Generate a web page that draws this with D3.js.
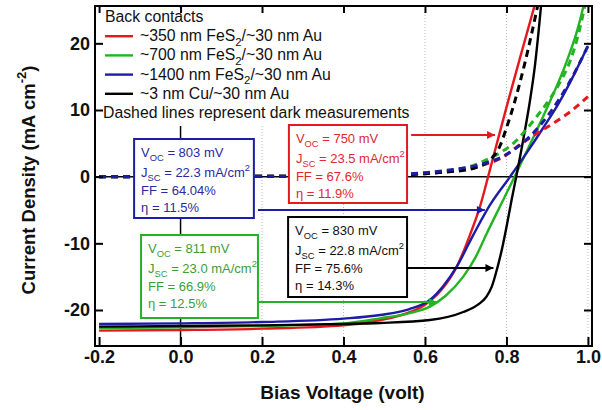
<!DOCTYPE html>
<html>
<head>
<meta charset="utf-8">
<script src="https://d3js.org/d3.v7.min.js"></script>
<style>
  body { margin: 0; background: #fff; }
  svg { display: block; font-family: "Liberation Sans", Arial, sans-serif; }
</style>
</head>
<body>
<svg id="chart" width="602" height="410"></svg>
<script>
// tick values
const voltTicks = [-0.2, 0.0, 0.2, 0.4, 0.6, 0.8, 1.0];
const currentTicks = [-20, -10, 0, 10, 20];

// illuminated J-V curves [V, mA/cm2]
const light350 = [[-0.2,-23.1],[0,-23.0],[0.2,-22.8],[0.4,-22.3],[0.49,-21.5],[0.55,-20.6],[0.6,-19.2],[0.64,-17.0],[0.678,-13.5],[0.71,-8.8],[0.735,-4.5],[0.755,0],[0.783,6.5],[0.804,11.3],[0.835,18.2],[0.872,26.3]];
const light700 = [[-0.2,-22.7],[0,-22.6],[0.2,-22.4],[0.4,-22.0],[0.49,-21.25],[0.56,-20.5],[0.612,-19.5],[0.65,-17.9],[0.694,-15.0],[0.725,-12.0],[0.751,-8.6],[0.788,-4.0],[0.82,0],[0.87,6.4],[0.907,11.3],[0.948,17.3],[0.975,22.2],[0.992,26.3]];
const light1400 = [[-0.2,-22.1],[0,-22.0],[0.2,-21.8],[0.4,-21.3],[0.49,-20.75],[0.56,-19.9],[0.612,-18.5],[0.645,-16.4],[0.678,-13.5],[0.719,-8.7],[0.76,-4.2],[0.809,0],[0.85,3.6],[0.89,7.3],[0.931,11.3],[0.965,15.2],[1.0,19.6]];
const lightCu = [[-0.2,-22.5],[0,-22.4],[0.2,-22.3],[0.4,-22.1],[0.49,-21.95],[0.612,-21.5],[0.694,-20.3],[0.73,-19.2],[0.751,-18.0],[0.764,-16.5],[0.778,-13.6],[0.79,-10.6],[0.80,-7.6],[0.812,-3.7],[0.825,0.3],[0.842,5.8],[0.858,11.5],[0.87,16.7],[0.886,26.3]];

// dark J-V curves
const dark350 = [[-0.2,0],[0,0],[0.2,0.05],[0.4,0.1],[0.5,0.2],[0.6,0.45],[0.66,0.8],[0.727,1.5],[0.79,2.9],[0.833,4.8],[0.87,6.3],[0.915,8.0],[0.96,9.9],[1.0,12.0]];
const dark700 = [[-0.2,0],[0,0],[0.2,0.05],[0.4,0.1],[0.5,0.2],[0.6,0.5],[0.66,0.9],[0.72,1.7],[0.76,2.8],[0.817,5.0],[0.874,9.0],[0.907,11.7],[0.93,14.0],[0.956,17.3],[0.975,21.0],[0.995,26.3]];
const dark1400 = [[-0.2,0],[0,0],[0.2,0.05],[0.4,0.1],[0.5,0.25],[0.6,0.6],[0.66,1.0],[0.727,1.7],[0.79,3.0],[0.857,6.0],[0.907,9.6],[0.956,14.3],[1.0,19.6]];
const darkCu = [[-0.2,0],[0,0],[0.2,0.05],[0.4,0.1],[0.5,0.2],[0.6,0.45],[0.66,0.75],[0.7,1.0],[0.727,1.4],[0.76,2.5],[0.784,4.6],[0.80,7.3],[0.82,11.2],[0.845,17.0],[0.879,26.3]];

// legend labels (text, subscript, text)
const legendLabels = [
  ['~350 nm FeS', '2', '/~30 nm Au'],
  ['~700 nm FeS', '2', '/~30 nm Au'],
  ['~1400 nm FeS', '2', '/~30 nm Au'],
  ['~3 nm Cu/~30 nm Au', '', '']
];

// device parameters: red, green, blue, black
const vocValues = ['750', '811', '803', '830'];
const jscValues = ['23.5', '23.0', '22.3', '22.8'];
const ffValues = ['67.6%', '66.9%', '64.04%', '75.6%'];
const etaValues = ['11.9%', '12.5%', '11.5%', '14.3%'];

const colors = ['#e3191e', '#22b422', '#1c1ca6', '#000000'];
const textColors = ['#e0282d', '#3a9e3a', '#2a2aa0', '#111111'];

// annotation box placement in data units
const boxes = [
  { x0: 0.266, x1: 0.556, y0: 7.75, y1: -3.95, ay: 6.25, ax0: 0.566, ax1: 0.772 },
  { x0: -0.097, x1: 0.19, y0: -8.75, y1: -21.2, ay: -18.8, ax0: 0.19, ax1: 0.629 },
  { x0: -0.114, x1: 0.18, y0: 5.65, y1: -6.2, ay: -5.0, ax0: 0.19, ax1: 0.747 },
  { x0: 0.264, x1: 0.556, y0: -6.05, y1: -18.05, ay: -13.7, ax0: 0.556, ax1: 0.768 }
];

const svg = d3.select('#chart');
const x = d3.scaleLinear().domain([-0.21, 1.01]).range([95, 592]);
const y = d3.scaleLinear().domain([-25.4, 25.6]).range([346, 6]);
const [plotLeft, plotRight] = x.range();
const [plotBottom, plotTop] = y.range();

svg.append('defs').append('clipPath').attr('id', 'plotClip')
  .append('rect').attr('x', plotLeft).attr('y', plotTop)
  .attr('width', plotRight - plotLeft).attr('height', plotBottom - plotTop);

// dotted grid
svg.append('g').selectAll('line').data(voltTicks.filter(v => v > 0.05))
  .join('line')
  .attr('x1', d => x(d)).attr('x2', d => x(d))
  .attr('y1', plotTop).attr('y2', plotBottom)
  .attr('stroke', '#b8b8b8').attr('stroke-width', 1).attr('stroke-dasharray', '1,2');

// zero lines
svg.append('line').attr('x1', plotLeft).attr('x2', plotRight).attr('y1', y(0)).attr('y2', y(0))
  .attr('stroke', '#000').attr('stroke-width', 1.5);
svg.append('line').attr('x1', x(0)).attr('x2', x(0)).attr('y1', plotTop).attr('y2', plotBottom)
  .attr('stroke', '#000').attr('stroke-width', 1.5);

const line = d3.line().x(d => x(d[0])).y(d => y(d[1])).curve(d3.curveMonotoneX);
const curves = svg.append('g').attr('clip-path', 'url(#plotClip)');

const lightSeries = [light350, light700, light1400, lightCu];
const darkSeries = [dark350, dark700, darkCu, dark1400];
const darkColors = [colors[0], colors[1], colors[3], colors[2]];

lightSeries.forEach((s, i) => {
  curves.append('path').datum(s).attr('d', line)
    .attr('fill', 'none').attr('stroke', colors[i]).attr('stroke-width', 2.4);
});
darkSeries.forEach((s, i) => {
  curves.append('path').datum(s).attr('d', line)
    .attr('fill', 'none').attr('stroke', darkColors[i]).attr('stroke-width', 3)
    .attr('stroke-dasharray', '7,5');
});

// rich text helper: parts = [[text, 'sub'|'sup'|null], ...]
function richText(g, px, py, parts, size, color) {
  const t = g.append('text').attr('x', px).attr('y', py)
    .style('font-size', size + 'px').attr('fill', color);
  let shift = 0;
  parts.forEach(p => {
    if (!p[0]) return;
    const target = p[1] === 'sub' ? size * 0.3 : p[1] === 'sup' ? -size * 0.45 : 0;
    t.append('tspan').attr('dy', target - shift)
      .style('font-size', p[1] ? (size * 0.72) + 'px' : null)
      .text(p[0]);
    shift = target;
  });
  return t;
}

// legend
const legendSize = 15.8;
const legend = svg.append('g');
legend.append('rect').attr('x', plotLeft + 2).attr('y', plotTop + 2).attr('width', 318).attr('height', 118)
  .attr('fill', '#fff');
richText(legend, 105, 22, [['Back contacts', null]], legendSize, '#111');
legendLabels.forEach((lab, i) => {
  const ly = 22 + (i + 1) * 19.2;
  legend.append('line').attr('x1', 105).attr('x2', 133).attr('y1', ly - 5).attr('y2', ly - 5)
    .attr('stroke', colors[i]).attr('stroke-width', 2.4);
  richText(legend, 140, ly, [[lab[0], null], [lab[1], 'sub'], [lab[2], null]], legendSize, '#111');
});
richText(legend, 103, 22 + 5 * 19.2, [['Dashed lines represent dark measurements', null]], legendSize, '#111');

// annotation boxes and arrows
const defs = svg.select('defs');
colors.forEach((c, i) => {
  defs.append('marker').attr('id', 'arrow' + i)
    .attr('viewBox', '0 0 10 10').attr('refX', 10).attr('refY', 5)
    .attr('markerWidth', 11).attr('markerHeight', 8).attr('markerUnits', 'userSpaceOnUse')
    .attr('orient', 'auto')
    .append('path').attr('d', 'M0,0L10,5L0,10Z').attr('fill', c);
});

const notes = svg.append('g');
boxes.forEach((b, i) => {
  notes.append('line')
    .attr('x1', x(b.ax0)).attr('x2', x(b.ax1)).attr('y1', y(b.ay)).attr('y2', y(b.ay))
    .attr('stroke', colors[i]).attr('stroke-width', 2)
    .attr('marker-end', `url(#arrow${i})`);
  const bx = x(b.x0), by = y(b.y0);
  notes.append('rect').attr('x', bx).attr('y', by)
    .attr('width', x(b.x1) - bx).attr('height', y(b.y1) - by)
    .attr('fill', '#fff').attr('stroke', colors[i]).attr('stroke-width', 2);
  const tx = bx + 7, size = 13, tc = textColors[i];
  richText(notes, tx, by + 18, [['V', null], ['OC', 'sub'], [` = ${vocValues[i]} mV`, null]], size, tc);
  richText(notes, tx, by + 38, [['J', null], ['SC', 'sub'], [` = ${jscValues[i]} mA/cm`, null], ['2', 'sup']], size, tc);
  richText(notes, tx, by + 56, [[`FF = ${ffValues[i]}`, null]], size, tc);
  richText(notes, tx, by + 73, [[`\u03b7 = ${etaValues[i]}`, null]], size, tc);
});

// axes
const fmtV = d => d.toFixed(1);
const axes = svg.append('g').style('font-weight', 'bold');
axes.append('g').attr('transform', `translate(0,${plotBottom})`)
  .call(d3.axisBottom(x).tickValues(voltTicks).tickSize(-9).tickPadding(4).tickFormat(fmtV));
axes.append('g').attr('transform', `translate(${plotLeft},0)`)
  .call(d3.axisLeft(y).tickValues(currentTicks).tickSize(-8).tickPadding(5).tickFormat(d => String(d)));
axes.append('g').attr('transform', `translate(0,${plotTop})`)
  .call(d3.axisTop(x).tickValues(voltTicks).tickSize(-7).tickFormat(''));
axes.append('g').attr('transform', `translate(${plotRight},0)`)
  .call(d3.axisRight(y).tickValues(currentTicks).tickSize(-8).tickFormat(''));
axes.selectAll('.domain').remove();
axes.selectAll('.tick line').attr('stroke', '#000').attr('stroke-width', 2);
axes.selectAll('.tick text').style('font-size', '18px')
  .style('font-family', '"Liberation Sans", Arial, sans-serif').attr('fill', '#111');

svg.append('rect').attr('x', plotLeft).attr('y', plotTop)
  .attr('width', plotRight - plotLeft).attr('height', plotBottom - plotTop)
  .attr('fill', 'none').attr('stroke', '#000').attr('stroke-width', 2);

// axis titles
svg.append('text').attr('x', (plotLeft + plotRight) / 2 - 1).attr('y', 399)
  .attr('text-anchor', 'middle').style('font-size', '19px').style('font-weight', 'bold').attr('fill', '#111')
  .text('Bias Voltage (volt)');
const yt = svg.append('text').attr('transform', `translate(35,${(plotTop + plotBottom) / 2 + 4}) rotate(-90)`)
  .attr('text-anchor', 'middle').style('font-size', '18.5px').style('font-weight', 'bold').attr('fill', '#111');
yt.append('tspan').text('Current Density (mA cm');
yt.append('tspan').attr('dy', -9).style('font-size', '13px').text('-2');
yt.append('tspan').attr('dy', 9).text(')');
</script>
</body>
</html>
